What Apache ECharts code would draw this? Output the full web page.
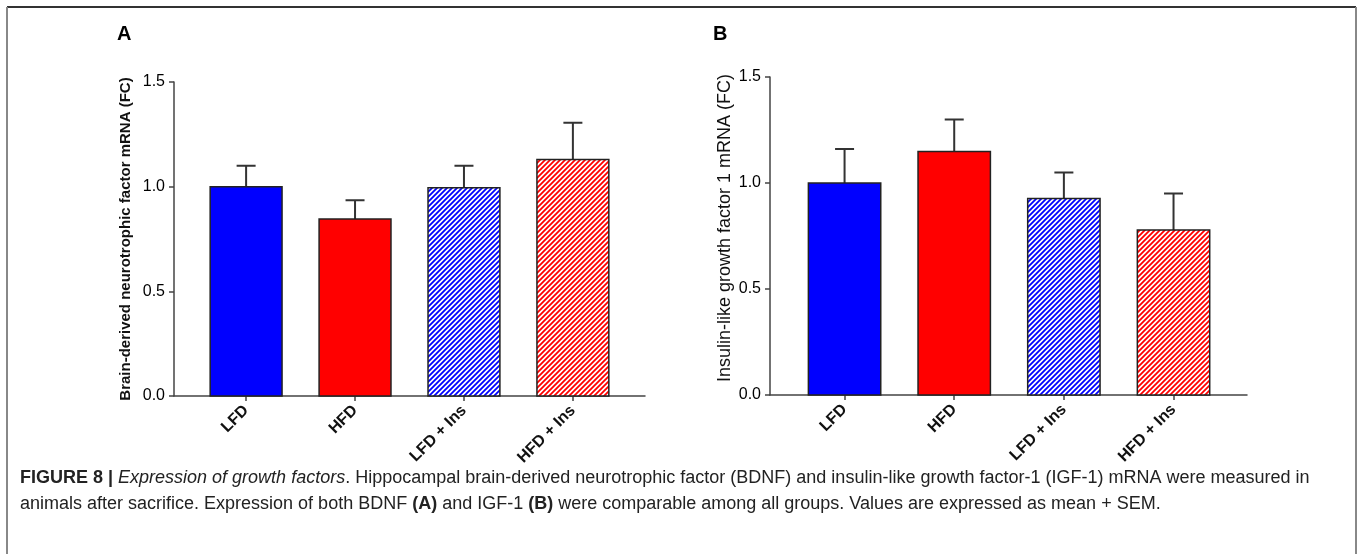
<!DOCTYPE html>
<html>
<head>
<meta charset="utf-8">
<style>
  html, body { margin: 0; padding: 0; background: #fff; }
  #main { width: 1360px; height: 554px; }
</style>
<script src="https://cdn.jsdelivr.net/npm/echarts@6/dist/echarts.min.js"></script>
</head>
<body>
<div id="main"></div>
<script>
// groups on the x axis
var groups = ['LFD', 'HFD', 'LFD + Ins', 'HFD + Ins'];
// panel A: BDNF mRNA (fold change), mean and mean + SEM
var bdnfMean = [1.0, 0.845, 0.995, 1.13];
var bdnfTop = [1.10, 0.935, 1.10, 1.305];
// panel B: IGF-1 mRNA (fold change)
var igfMean = [1.0, 1.148, 0.927, 0.778];
var igfTop = [1.16, 1.30, 1.05, 0.95];
var yTicks = [0, 0.5, 1.0, 1.5];

var blue = '#0000ff', red = '#ff0000';

// diagonal hatch "///"
function hatch(color) {
    var p = 5;
    var c = document.createElement('canvas');
    c.width = p; c.height = p;
    var ctx = c.getContext('2d');
    ctx.fillStyle = '#fff';
    ctx.fillRect(0, 0, p, p);
    ctx.strokeStyle = color;
    ctx.lineWidth = 1.8;
    ctx.beginPath();
    ctx.moveTo(-1, p + 1); ctx.lineTo(p + 1, -1);
    ctx.moveTo(-1, 1); ctx.lineTo(1, -1);
    ctx.moveTo(p - 1, p + 1); ctx.lineTo(p + 1, p - 1);
    ctx.stroke();
    return c;
}
var fills = [blue, red, {image: hatch(blue), repeat: 'repeat'}, {image: hatch(red), repeat: 'repeat'}];

function barItem(params, api) {
    var x = api.value(0), y = api.value(1);
    var p0 = api.coord([x, 0]);
    var p1 = api.coord([x, y]);
    var w = api.size([1, 0])[0] * 0.66;
    return {
        type: 'rect',
        shape: {x: p1[0] - w / 2, y: p1[1], width: w, height: p0[1] - p1[1]},
        style: {fill: fills[x], stroke: '#222', lineWidth: 1.5}
    };
}
// stem from the bar top up to mean + SEM, with a cap
function errItem(params, api) {
    var x = api.value(0);
    var a = api.coord([x, api.value(1)]);
    var b = api.coord([x, api.value(2)]);
    return {
        type: 'polyline',
        shape: {points: [[a[0], a[1]], [b[0], b[1]], [b[0] - 9.5, b[1]], [b[0] + 9.5, b[1]]]},
        style: {stroke: '#333', lineWidth: 2, fill: null}
    };
}

function pairs(arr) { return arr.map(function (v, i) { return [i, v]; }); }
function triples(m, t) { return m.map(function (v, i) { return [i, v, t[i]]; }); }

function xAx(idx, min, max) {
    return {
        type: 'value', gridIndex: idx, min: min, max: max,
        splitLine: {show: false},
        axisLine: {onZero: false, lineStyle: {color: '#444', width: 1.5}},
        axisTick: {customValues: [0, 1, 2, 3], length: 5, lineStyle: {color: '#444', width: 1.5}},
        axisLabel: {
            customValues: [0, 1, 2, 3], rotate: 45, margin: 12,
            fontFamily: 'Liberation Sans, Arial', fontWeight: 'bold', fontSize: 16, color: '#111',
            formatter: function (v) { return groups[Math.round(v)]; }
        }
    };
}
function yAx(idx, name, weight, size, gap, pad) {
    return {
        type: 'value', gridIndex: idx, min: 0, max: 1.5, interval: 0.5,
        name: name, nameLocation: 'middle', nameRotate: 90, nameGap: gap,
        nameTextStyle: {fontFamily: 'Liberation Sans, Arial', fontWeight: weight, fontSize: size, color: '#111', padding: pad},
        splitLine: {show: false},
        axisLine: {show: true, onZero: false, lineStyle: {color: '#444', width: 1.5}},
        axisTick: {show: true, length: 5, lineStyle: {color: '#444', width: 1.5}},
        axisLabel: {
            fontFamily: 'Liberation Sans, Arial', fontSize: 16, color: '#000', margin: 9,
            customValues: yTicks,
            formatter: function (v) { return v.toFixed(1); }
        }
    };
}

var chart = echarts.init(document.getElementById('main'), null, {renderer: 'canvas'});
chart.setOption({
    animation: false,
    grid: [
        {left: 174, top: 82, width: 471, height: 314},
        {left: 770, top: 77, width: 477, height: 318}
    ],
    xAxis: [xAx(0, -0.662, 3.662), xAx(1, -0.68, 3.67)],
    yAxis: [
        yAx(0, 'Brain-derived neurotrophic factor mRNA (FC)', 'bold', 15, 41, [0, 0, 0, 0]),
        yAx(1, 'Insulin-like growth factor 1 mRNA (FC)', 'normal', 18, 36, [0, 0, 0, 16])
    ],
    series: [
        {type: 'custom', xAxisIndex: 0, yAxisIndex: 0, renderItem: errItem, encode: {x: 0, y: [1, 2]}, data: triples(bdnfMean, bdnfTop), z: 1},
        {type: 'custom', xAxisIndex: 0, yAxisIndex: 0, renderItem: barItem, encode: {x: 0, y: 1}, data: pairs(bdnfMean), z: 2},
        {type: 'custom', xAxisIndex: 1, yAxisIndex: 1, renderItem: errItem, encode: {x: 0, y: [1, 2]}, data: triples(igfMean, igfTop), z: 1},
        {type: 'custom', xAxisIndex: 1, yAxisIndex: 1, renderItem: barItem, encode: {x: 0, y: 1}, data: pairs(igfMean), z: 2}
    ],
    graphic: [
        // figure frame
        {type: 'line', shape: {x1: 7, y1: 7, x2: 1356, y2: 7}, style: {stroke: '#333', lineWidth: 2}},
        {type: 'line', shape: {x1: 7, y1: 7, x2: 7, y2: 554}, style: {stroke: '#888', lineWidth: 2}},
        {type: 'line', shape: {x1: 1356, y1: 7, x2: 1356, y2: 554}, style: {stroke: '#888', lineWidth: 2}},
        // panel letters
        {type: 'text', left: 117, top: 24, style: {text: 'A', font: 'bold 20px "Liberation Sans", Arial', fill: '#000'}},
        {type: 'text', left: 713, top: 24, style: {text: 'B', font: 'bold 20px "Liberation Sans", Arial', fill: '#000'}},
        // caption
        {
            type: 'text', left: 20, top: 465,
            style: {
                text: '{b|FIGURE 8 |} {i|Expression of growth factors}. Hippocampal brain-derived neurotrophic factor (BDNF) and insulin-like growth factor-1 (IGF-1) mRNA were measured in\n' +
                    'animals after sacrifice. Expression of both BDNF {b|(A)} and IGF-1 {b|(B)} were comparable among all groups. Values are expressed as mean + SEM.',
                font: '18px "Liberation Sans Narrow", "Liberation Sans", Arial',
                fill: '#222', lineHeight: 26,
                rich: {
                    b: {font: 'bold 18px "Liberation Sans Narrow", "Liberation Sans", Arial', fill: '#222', lineHeight: 26},
                    i: {font: 'italic 18px "Liberation Sans Narrow", "Liberation Sans", Arial', fill: '#222', lineHeight: 26}
                }
            }
        }
    ]
});
</script>
</body>
</html>
